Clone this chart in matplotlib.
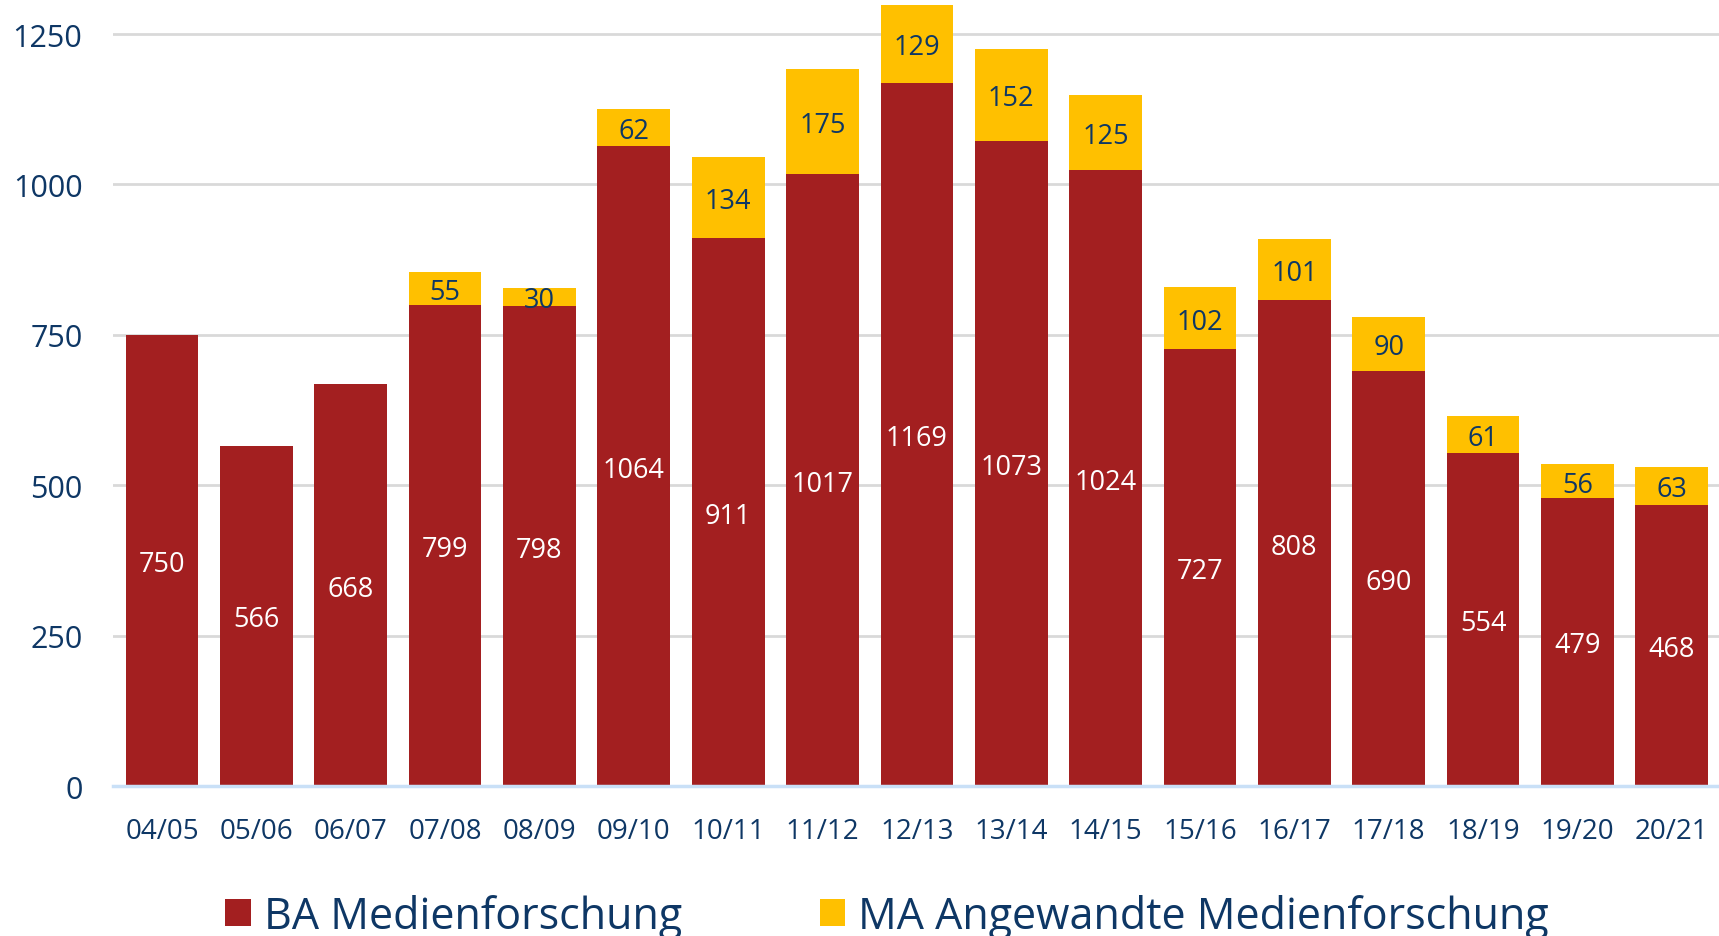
import matplotlib
matplotlib.use("Agg")
import matplotlib.pyplot as plt
from matplotlib.patches import Patch
import numpy as np

plt.rcParams['font.family'] = ['Open Sans', 'DejaVu Sans']

years = ["04/05", "05/06", "06/07", "07/08", "08/09", "09/10", "10/11", "11/12",
         "12/13", "13/14", "14/15", "15/16", "16/17", "17/18", "18/19", "19/20", "20/21"]
ba = [750, 566, 668, 799, 798, 1064, 911, 1017, 1169, 1073, 1024, 727, 808, 690, 554, 479, 468]
ma = [0, 0, 0, 55, 30, 62, 134, 175, 129, 152, 125, 102, 101, 90, 61, 56, 63]
yticks = [0, 250, 500, 750, 1000, 1250]

RED = "#A31F20"
YEL = "#FFC000"
NAVY = "#0E3765"

fig = plt.figure(figsize=(17.19, 9.37), dpi=100)
ax = fig.add_axes([0.0657, 0.160, 0.9343, 0.8347])

x = np.arange(len(years))
w = 0.77
ax.bar(x, ba, width=w, color=RED, linewidth=0, zorder=3)
ma_idx = [i for i in range(len(years)) if ma[i] > 0]
ax.bar(x[ma_idx], [ma[i] for i in ma_idx], width=w, bottom=[ba[i] for i in ma_idx],
       color=YEL, linewidth=0, zorder=3)

for i in range(len(years)):
    ax.text(x[i], ba[i] / 2, str(ba[i]), ha="center", va="center_baseline", color="white",
            fontsize=19.5, zorder=4)
    if ma[i] > 0:
        ax.text(x[i], ba[i] + ma[i] / 2, str(ma[i]), ha="center", va="center_baseline",
                color=NAVY, fontsize=19.5, zorder=4)

ax.set_xlim(-0.52, 16.5)
ax.set_ylim(0, 1300)
ax.set_yticks(yticks)
ax.set_yticklabels([str(t) for t in yticks])
ax.set_xticks(x)
ax.set_xticklabels(years)
ax.tick_params(axis="y", length=0, pad=22, labelsize=22, labelcolor=NAVY)
ax.tick_params(axis="x", length=0, pad=22, labelsize=20, labelcolor=NAVY)
ax.grid(axis="y", color="#D9D9D9", linewidth=2, zorder=0)
for s in ["top", "right", "left"]:
    ax.spines[s].set_visible(False)
ax.spines["bottom"].set_color("#C9E0F7")
ax.spines["bottom"].set_linewidth(2.5)
ax.spines["bottom"].set_zorder(5)

handles = [Patch(facecolor=RED, label="BA Medienforschung"),
           Patch(facecolor=YEL, label="MA Angewandte Medienforschung")]
fig.legend(handles=handles, loc="center", bbox_to_anchor=(0.516, 0.021), ncol=2,
           frameon=False, fontsize=31, labelcolor=NAVY, handlelength=0.6,
           handleheight=0.6, handletextpad=0.3, columnspacing=3.2, borderaxespad=0)

fig.savefig("out.png", dpi=100)
